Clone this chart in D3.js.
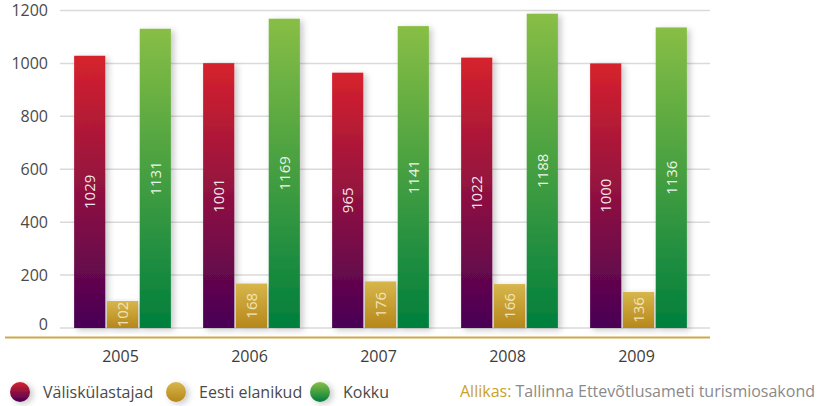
<!DOCTYPE html>
<html>
<head>
<meta charset="utf-8">
<script src="https://cdn.jsdelivr.net/npm/d3@7"></script>
<style>
  body { margin: 0; background: #fff; }
  svg { display: block; font-family: "Open Sans", sans-serif; }
</style>
</head>
<body>
<div id="chart"></div>
<script>
const years = ["2005", "2006", "2007", "2008", "2009"];
const seriesNames = ["Väliskülastajad", "Eesti elanikud", "Kokku"];
const foreignVisitors = [1029, 1001, 965, 1022, 1000];
const localResidents = [102, 168, 176, 166, 136];
const totals = [1131, 1169, 1141, 1188, 1136];
const yTicks = [0, 200, 400, 600, 800, 1000, 1200];

const width = 822, height = 406;

const svg = d3.select("#chart")
              .append("svg")
              .attr("width", width)
              .attr("height", height);

const defs = svg.append("defs");

// top / bottom colours for each series gradient
const gradColors = [
    ["#d6222c", "#480055"],
    ["#d7b64b", "#b6871b"],
    ["#88be45", "#007f3d"]
];
gradColors.forEach((c, i) => {
    const g = defs.append("linearGradient")
                  .attr("id", "grad" + i)
                  .attr("x1", 0).attr("y1", 0)
                  .attr("x2", 0).attr("y2", 1);
    g.append("stop").attr("offset", "0%").attr("stop-color", c[0]);
    g.append("stop").attr("offset", "100%").attr("stop-color", c[1]);
});

const shadow = defs.append("filter")
                   .attr("id", "shadow")
                   .attr("x", "-30%").attr("y", "-10%")
                   .attr("width", "180%").attr("height", "130%");
shadow.append("feDropShadow")
      .attr("dx", 3).attr("dy", 2)
      .attr("stdDeviation", 3)
      .attr("flood-color", "#000")
      .attr("flood-opacity", 0.22);

const x0 = d3.scaleBand()
             .domain(years)
             .range([58, 703])
             .paddingInner(0.25)
             .paddingOuter(0.125);

const x1 = d3.scaleBand()
             .domain(seriesNames)
             .range([0, x0.bandwidth()])
             .paddingInner(0.05);

const y = d3.scaleLinear()
            .domain([0, 1200])
            .range([328, 10.5]);

// grid lines
svg.append("g")
   .selectAll("line")
   .data(yTicks)
   .enter().append("line")
   .attr("x1", 60)
   .attr("x2", 710)
   .attr("y1", d => y(d))
   .attr("y2", d => y(d))
   .attr("stroke", "#dadada")
   .attr("stroke-width", 1.5);

// y axis labels
svg.append("g")
   .selectAll("text")
   .data(yTicks)
   .enter().append("text")
   .attr("x", 48)
   .attr("y", d => y(d) - (d === 0 ? 4 : 0))
   .attr("dy", "0.35em")
   .attr("text-anchor", "end")
   .attr("font-size", 16)
   .attr("fill", "#4a4a4a")
   .text(d => d);

const seriesData = [foreignVisitors, localResidents, totals];

const groups = svg.append("g")
                  .selectAll("g")
                  .data(years)
                  .enter().append("g")
                  .attr("transform", d => `translate(${x0(d)},0)`);

groups.each(function(year, yi) {
    const g = d3.select(this);
    seriesNames.forEach((name, si) => {
        const v = seriesData[si][yi];
        g.append("rect")
         .attr("x", x1(name))
         .attr("y", y(v))
         .attr("width", x1.bandwidth())
         .attr("height", y(0) - y(v))
         .attr("fill", `url(#grad${si})`)
         .attr("filter", "url(#shadow)");
        const cx = x1(name) + x1.bandwidth() / 2;
        const cy = (y(v) + y(0)) / 2;
        g.append("text")
         .attr("transform", `translate(${cx},${cy}) rotate(-90)`)
         .attr("text-anchor", "middle")
         .attr("dy", "0.35em")
         .attr("font-size", 15)
         .attr("fill", si === 1 ? "#f6ecc4" : "#fff")
         .attr("fill-opacity", 0.9)
         .text(v);
    });
});

// baseline
svg.append("line")
   .attr("x1", 5)
   .attr("x2", 710)
   .attr("y1", 337.5)
   .attr("y2", 337.5)
   .attr("stroke", "#cda94c")
   .attr("stroke-width", 2);

// year labels
svg.append("g")
   .selectAll("text")
   .data(years)
   .enter().append("text")
   .attr("x", d => x0(d) + x0.bandwidth() / 2 - 2)
   .attr("y", 362)
   .attr("text-anchor", "middle")
   .attr("font-size", 16)
   .attr("fill", "#3c3c3c")
   .text(d => d);

// legend
const legendX = [20, 176, 320];
const legend = svg.append("g")
                  .selectAll("g")
                  .data(seriesNames)
                  .enter().append("g")
                  .attr("transform", (d, i) => `translate(${legendX[i]},392)`);

legend.append("circle")
      .attr("r", 10)
      .attr("fill", (d, i) => `url(#grad${i})`)
      .attr("filter", "url(#shadow)");

legend.append("text")
      .attr("x", 23)
      .attr("dy", "0.35em")
      .attr("font-size", 16)
      .attr("fill", "#4a4a4a")
      .text(d => d);

// source
const src = svg.append("text")
               .attr("x", 815)
               .attr("y", 397)
               .attr("text-anchor", "end")
               .attr("font-size", 16);
src.append("tspan").attr("fill", "#c9a227").text("Allikas: ");
src.append("tspan").attr("fill", "#8a8a8a").text("Tallinna Ettevõtlusameti turismiosakond");
</script>
</body>
</html>
